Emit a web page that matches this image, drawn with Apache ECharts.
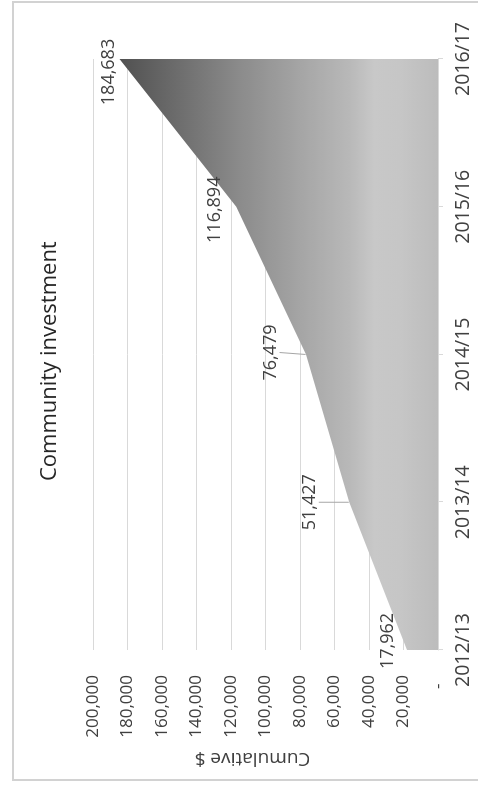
<!DOCTYPE html>
<html>
<head>
<meta charset="utf-8">
<script src="https://cdn.jsdelivr.net/npm/echarts@6/dist/echarts.min.js"></script>
<style>
  html, body { margin: 0; padding: 0; background: #fff; overflow: hidden; }
  /* chart is drawn landscape, then turned a quarter turn left */
  #wrap {
    position: absolute; left: 0; top: 0;
    width: 787px; height: 478px;
    transform-origin: 0 0;
    transform: translateY(787px) rotate(-90deg);
  }
  #chart { position: absolute; left: 0; top: 0; width: 787px; height: 478px; }
  #frame {
    position: absolute; left: 6px; top: 12px; width: 776px; height: 480px;
    border: 2px solid #d2d2d2; pointer-events: none;
  }
</style>
</head>
<body>
<div id="wrap">
  <div id="chart"></div>
  <div id="frame"></div>
</div>
<script>
// data
var years = ['2012/13', '2013/14', '2014/15', '2015/16', '2016/17'];
var cumulative = [17962, 51427, 76479, 116894, 184683];
var valueTicks = [0, 20000, 40000, 60000, 80000, 100000, 120000, 140000, 160000, 180000, 200000];

// label nudges (px) for each point's data label
var labelShift = [[9, -5], [0, -25], [2, -21], [-3, -7], [-13, 4]];
var withLeader = [false, true, true, false, false];

var chart = echarts.init(document.getElementById('chart'));

var seriesData = cumulative.map(function (v, i) {
  return { value: v, labelLine: { show: withLeader[i] } };
});

var option = {
  backgroundColor: '#fff',
  animation: false,
  title: {
    text: 'Community investment',
    left: 306,
    top: 39,
    padding: 0,
    textStyle: { fontFamily: 'Open Sans', fontSize: 22, fontWeight: 'normal', color: '#262626' }
  },
  grid: { left: 137, right: 59, top: 93, bottom: 40 },
  xAxis: {
    type: 'category',
    data: years,
    boundaryGap: false,
    axisLine: { lineStyle: { color: '#d9d9d9' } },
    axisTick: { show: true, length: 5, lineStyle: { color: '#d9d9d9' } },
    axisLabel: { margin: 15, fontFamily: 'Open Sans', fontSize: 19.5, color: '#404040' }
  },
  yAxis: {
    type: 'value',
    min: valueTicks[0],
    max: valueTicks[valueTicks.length - 1],
    interval: valueTicks[1] - valueTicks[0],
    name: 'Cumulative $',
    nameLocation: 'middle',
    nameRotate: 90,
    nameGap: 98,
    nameTextStyle: { fontFamily: 'Open Sans', fontSize: 19, color: '#404040', padding: [0, 0, 0, 26] },
    axisLine: { show: false },
    axisTick: { show: false },
    splitLine: { lineStyle: { color: '#d9d9d9', width: 1 } },
    axisLabel: {
      margin: 25,
      fontFamily: 'Open Sans', fontSize: 17, color: '#404040',
      formatter: function (v) {
        return v === 0 ? '-\u2002' : v.toLocaleString('en-US');
      }
    }
  },
  series: [{
    type: 'line',
    data: seriesData,
    symbol: 'circle',
    symbolSize: 1,
    itemStyle: { color: 'rgba(0,0,0,0)' },
    lineStyle: { width: 0 },
    areaStyle: {
      opacity: 1,
      color: new echarts.graphic.LinearGradient(0, 0, 0, 1, [
        { offset: 0, color: '#505050' },
        { offset: 0.37, color: '#8a8a8a' },
        { offset: 0.59, color: '#a8a8a8' },
        { offset: 0.72, color: '#b8b8b8' },
        { offset: 0.8, color: '#c8c8c8' },
        { offset: 0.88, color: '#c6c6c6' },
        { offset: 1, color: '#bcbcbc' }
      ])
    },
    label: {
      show: true,
      position: 'top',
      fontFamily: 'Open Sans',
      fontSize: 18,
      color: '#404040',
      formatter: function (p) { return p.value.toLocaleString('en-US'); }
    },
    labelLine: { show: false, lineStyle: { color: '#a6a6a6', width: 1 } },
    labelLayout: function (p) {
      var s = labelShift[p.dataIndex];
      return { dx: s[0], dy: s[1] };
    }
  }]
};

chart.setOption(option);
</script>
</body>
</html>
